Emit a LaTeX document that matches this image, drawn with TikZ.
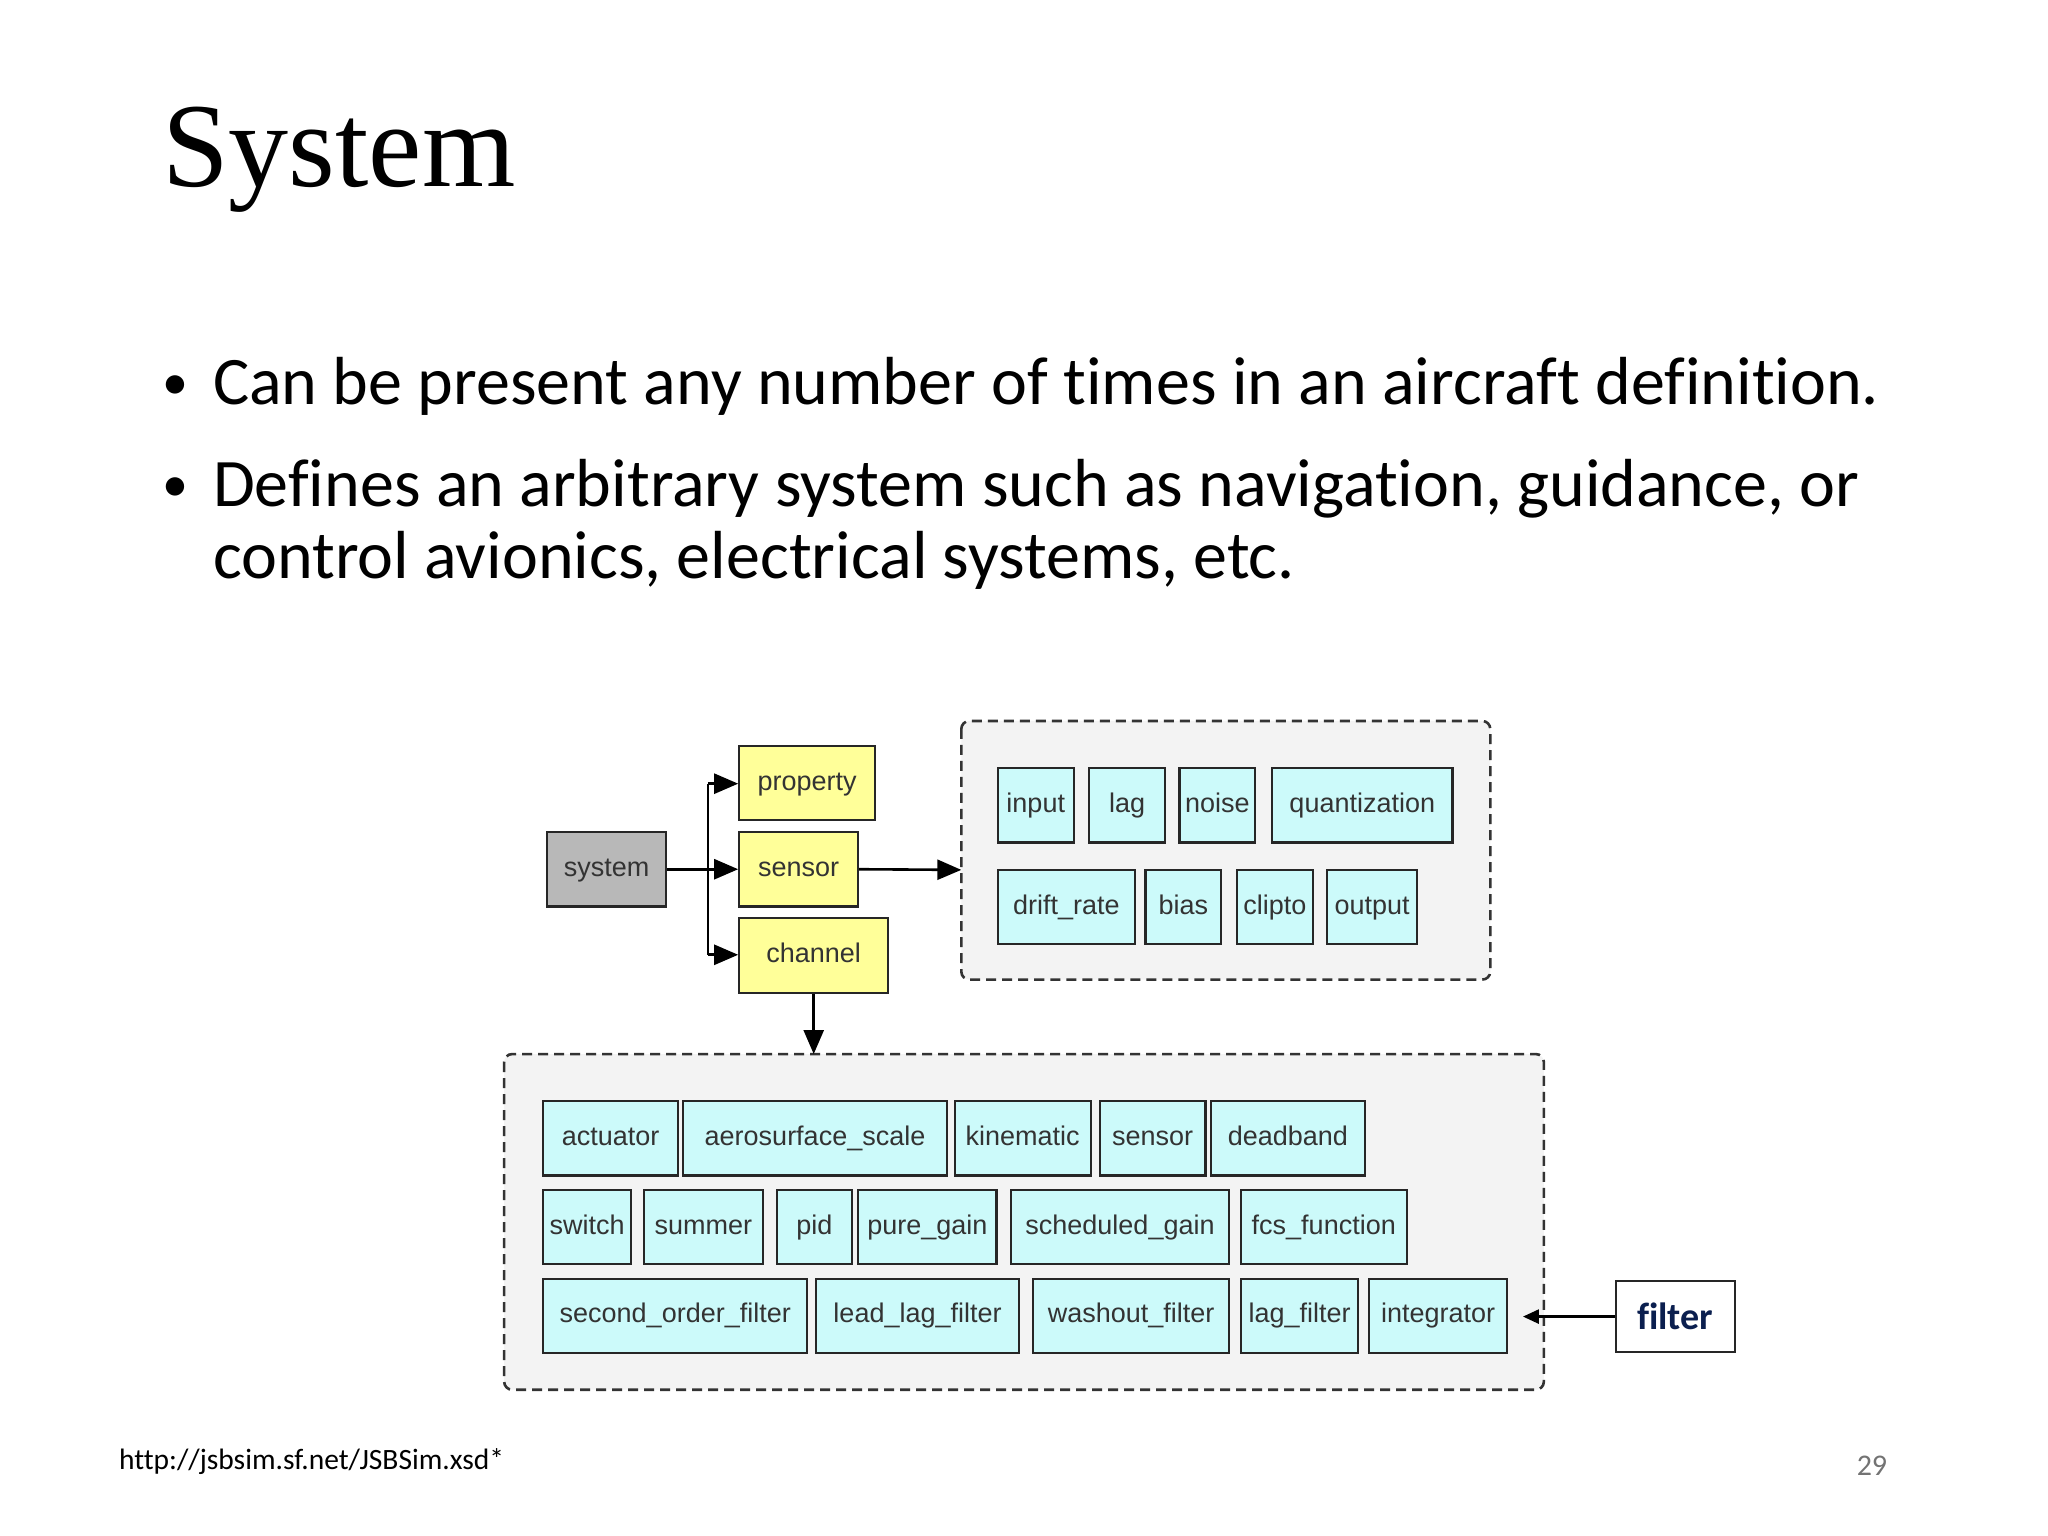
\documentclass[tikz,border=0pt]{standalone}
\usepackage{fontspec}
\setmainfont{Liberation Serif}
\newfontfamily\bodyf[Ligatures=NoCommon]{Carlito}
\newfontfamily\boxf{Liberation Sans}
\usetikzlibrary{arrows.meta}
\definecolor{cy}{HTML}{CCFAFA}
\definecolor{yl}{HTML}{FFFF99}
\definecolor{gr}{HTML}{B8B8B8}
\definecolor{grp}{HTML}{F3F3F3}
\definecolor{navy}{HTML}{0B1F4F}
\newcommand{\bx}[7]{\node[#7, minimum width={(#4-#2)*1.306pt}, minimum height={(#5-#3)*1.306pt}] (#1) at ({(#2+#4)/2},{(#3+#5)/2}) {#6};}
\tikzset{
 base/.style={draw=black!85, line width=2.2pt, inner sep=0pt, font=\boxf\fontsize{27}{29}\selectfont, text=black!80, text height=20pt, text depth=6pt},
 cbox/.style={base, fill=cy},
 ybox/.style={base, fill=yl},
 gbox/.style={base, fill=gr},
 grpbox/.style={draw=black!80, dash pattern=on 10pt off 6pt, line width=2.6pt, fill=grp, rounded corners=8pt},
 arr/.style={line width=2.6pt, -{Triangle[length=24pt,width=20pt]}},
 bl/.style={anchor=base west, inner sep=0, font=\bodyf\fontsize{68}{74}\selectfont},
}
\begin{document}
\begin{tikzpicture}[x=1.306pt,y=-1.306pt]
\useasboundingbox (0,0) rectangle (1568,1176);
\fill[white] (0,0) rectangle (1568,1176);
\node[anchor=base west, inner sep=0, font=\fontsize{120}{128}\selectfont] (title) at (124,143) {System};
\node[bl, font=\bodyf\fontsize{52}{60}\selectfont] (b1) at (124,306) {•};
\node[bl] (t1) at (163,310) {Can be present any number of times in an aircraft definition.};
\node[bl, font=\bodyf\fontsize{52}{60}\selectfont] (b2) at (124,384) {•};
\node[bl] (t2) at (163,388) {Defines an arbitrary system such as navigation, guidance, or};
\node[bl] (t3) at (163,443) {control avionics, electrical systems, etc.};
\node[anchor=base west, inner sep=0, font=\bodyf\fontsize{29.5}{32}\selectfont] (url) at (91,1125) {http://jsbsim.sf.net/JSBSim.xsd*};
\node[anchor=base east, inner sep=0, font=\bodyf\fontsize{30}{32}\selectfont, text=black!55] (pg) at (1445,1130) {29};
% groups
\draw[grpbox] (736,552) rectangle (1141,750);
\draw[grpbox] (386,807) rectangle (1182,1064);
\coordinate (g1w) at (736,666);
\coordinate (g2n) at (623,807);
\coordinate (g2e) at (1166,1008);
% main boxes
\bx{system}{419}{637}{510}{694}{system}{gbox}
\bx{property}{566}{571}{670}{628}{property}{ybox}
\bx{sensor}{566}{637}{657}{694}{sensor}{ybox}
\bx{channel}{566}{703}{680}{760}{channel}{ybox}
% group 1
\bx{input}{764}{588}{822}{645}{input}{cbox}
\bx{lag}{834}{588}{892}{645}{lag}{cbox}
\bx{noise}{903}{588}{961}{645}{noise}{cbox}
\bx{quant}{974}{588}{1112}{645}{quantization}{cbox}
\bx{drift}{764}{666}{869}{723}{drift\_rate}{cbox}
\bx{bias}{877}{666}{935}{723}{bias}{cbox}
\bx{clipto}{947}{666}{1005}{723}{clipto}{cbox}
\bx{output}{1016}{666}{1085}{723}{output}{cbox}
% group 2
\bx{actuator}{416}{843}{519}{900}{actuator}{cbox}
\bx{aero}{523}{843}{725}{900}{aerosurface\_scale}{cbox}
\bx{kin}{731}{843}{835}{900}{kinematic}{cbox}
\bx{sens2}{842}{843}{923}{900}{sensor}{cbox}
\bx{dead}{927}{843}{1045}{900}{deadband}{cbox}
\bx{switch}{416}{911}{483}{968}{switch}{cbox}
\bx{summer}{493}{911}{584}{968}{summer}{cbox}
\bx{pid}{595}{911}{652}{968}{pid}{cbox}
\bx{pure}{657}{911}{763}{968}{pure\_gain}{cbox}
\bx{sched}{774}{911}{941}{968}{scheduled\_gain}{cbox}
\bx{fcs}{950}{911}{1077}{968}{fcs\_function}{cbox}
\bx{sof}{416}{979}{618}{1036}{second\_order\_filter}{cbox}
\bx{llf}{625}{979}{780}{1036}{lead\_lag\_filter}{cbox}
\bx{wof}{791}{979}{941}{1036}{washout\_filter}{cbox}
\bx{lagf}{950}{979}{1040}{1036}{lag\_filter}{cbox}
\bx{integ}{1048}{979}{1154}{1036}{integrator}{cbox}
\bx{filter}{1237}{981}{1328}{1035}{\bodyf\bfseries\fontsize{38}{40}\selectfont filter}{draw=black!85, line width=2pt, fill=white, text=navy, inner sep=0pt}
% connectors
\draw[line width=2.6pt] (542,600) -- (542,731);
\draw[arr] (system.east) -- (sensor.west);
\draw[arr] (542,600) -- (property.west |- 542,600);
\draw[arr] (542,731) -- (channel.west |- 542,731);
\draw[arr] (sensor.east) -- (g1w);
\draw[arr] (channel.south -| g2n) -- (g2n);
\draw[arr, -{Triangle[length=16pt,width=14pt]}] (filter.west) -- (g2e);
\end{tikzpicture}
\end{document}
